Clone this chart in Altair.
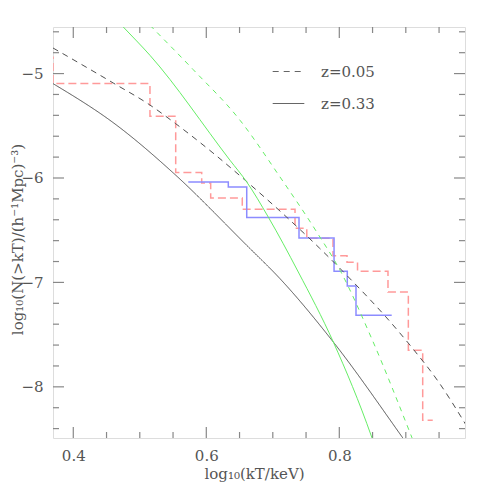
import altair as alt
import pandas as pd

# ---- axis ranges and ticks ----
x_domain = [0.3695, 0.989]
y_domain = [-8.49, -4.554]
x_major = [0.4, 0.6, 0.8]
x_minor = [0.45, 0.5, 0.55, 0.65, 0.7, 0.75, 0.85, 0.9, 0.95]
y_major = [-5, -6, -7, -8]
y_minor = [-4.6, -4.8, -5.2, -5.4, -5.6, -5.8, -6.2, -6.4, -6.6, -6.8,
           -7.2, -7.4, -7.6, -7.8, -8.2, -8.4]

# ---- observed cumulative functions (steps) ----
red_edges = [0.36, 0.3695, 0.5153, 0.554, 0.5931, 0.6066, 0.6541, 0.7334,
             0.7511, 0.7905, 0.8116, 0.8274, 0.8732, 0.9038, 0.9254, 0.9405]
red_levels = [-4.844, -5.096, -5.409, -5.948, -6.048, -6.192, -6.300, -6.482,
              -6.578, -6.745, -6.807, -6.894, -7.092, -7.650, -8.321]

blue_edges = [0.5729, 0.6331, 0.6608, 0.7394, 0.7921, 0.8120, 0.8251, 0.8788]
blue_levels = [-6.038, -6.086, -6.379, -6.575, -6.894, -7.035, -7.315]

# ---- model curves ----
black05_x = [0.3695, 0.46, 0.515, 0.554, 0.61, 0.66, 0.72, 0.77, 0.82, 0.87, 0.91, 0.95, 0.99]
black05_y = [-4.755, -5.09, -5.30, -5.48, -5.76, -6.03, -6.37, -6.67, -6.99, -7.33, -7.63, -7.96, -8.36]
black33_x = [0.3695, 0.4653, 0.5504, 0.6608, 0.7108, 0.791, 0.8962, 0.91]
black33_y = [-5.096, -5.495, -5.952, -6.645, -6.964, -7.571, -8.496, -8.62]
green05_x = [0.505, 0.5179, 0.58, 0.6507, 0.7108, 0.766, 0.8011, 0.8487, 0.9089, 0.92]
green05_y = [-4.47, -4.554, -4.96, -5.447, -5.990, -6.517, -6.884, -7.538, -8.481, -8.66]
green33_x = [0.465, 0.4752, 0.5153, 0.6356, 0.6608, 0.6932, 0.7383, 0.791, 0.8487, 0.86]
green33_y = [-4.485, -4.554, -4.825, -5.830, -6.038, -6.374, -6.900, -7.571, -8.481, -8.69]

z_labels = ["z=0.05", "z=0.33"]

def steps(edges, levels):
    return pd.DataFrame({"x": list(edges), "y": list(levels) + [levels[-1]]})

red_df = steps(red_edges, red_levels)
blue_df = steps(blue_edges, blue_levels)
black_df = pd.concat([
    pd.DataFrame({"x": black05_x, "y": black05_y, "z": z_labels[0]}),
    pd.DataFrame({"x": black33_x, "y": black33_y, "z": z_labels[1]}),
])
green05_df = pd.DataFrame({"x": green05_x, "y": green05_y})
green33_df = pd.DataFrame({"x": green33_x, "y": green33_y})

W, H = 412, 411
FONT = "DejaVu Serif"
TXT = "#555555"
FRAME = "#888888"

X = alt.X("x:Q", scale=alt.Scale(domain=x_domain, nice=False, zero=False),
          axis=alt.Axis(values=x_major, format=".1f", ticks=False, domain=False, grid=False,
                        labelFont=FONT, labelFontSize=15, labelColor=TXT, labelPadding=10,
                        title="log₁₀(kT/keV)", titleFont=FONT, titleFontSize=15,
                        titleFontWeight="normal", titleColor=TXT, titleX=201, titleY=35,
                        titleBaseline="middle"))
Y = alt.Y("y:Q", scale=alt.Scale(domain=y_domain, nice=False, zero=False),
          axis=alt.Axis(values=y_major, format="d", ticks=False, domain=False, grid=False,
                        labelFont=FONT, labelFontSize=15, labelColor=TXT, labelPadding=10,
                        title="log₁₀(N(>kT)/(h⁻¹Mpc)⁻³)", titleFont=FONT, titleFontSize=15,
                        titleFontWeight="normal", titleColor=TXT, titleX=-36, titleY=212,
                        titleAngle=-90, titleBaseline="middle"))

red = alt.Chart(red_df).mark_line(interpolate="step-after", clip=True, color="#ff9a9a",
                                  strokeWidth=1.5, strokeDash=[8, 4]).encode(x=X, y=Y)
blue = alt.Chart(blue_df).mark_line(interpolate="step-after", clip=True, color="#8c8cff",
                                    strokeWidth=1.5).encode(x=X, y=Y)
black = alt.Chart(black_df).mark_line(interpolate="monotone", clip=True, color="#505050",
                                      strokeWidth=1).encode(
    x=X, y=Y, detail="z:N",
    strokeDash=alt.StrokeDash("z:N", scale=alt.Scale(domain=z_labels, range=[[6, 5], [1, 0]]),
                              legend=alt.Legend(title=None, orient="none", legendX=219, legendY=28,
                                                symbolSize=1000, symbolStrokeColor="#666666",
                                                symbolStrokeWidth=1.2, labelFont=FONT,
                                                labelFontSize=15, labelColor=TXT, labelOffset=16,
                                                rowPadding=7, padding=0)))
green05 = alt.Chart(green05_df).mark_line(interpolate="monotone", clip=True, color="#66ee66",
                                          strokeWidth=1, strokeDash=[5, 5]).encode(x=X, y=Y)
green33 = alt.Chart(green33_df).mark_line(interpolate="monotone", clip=True, color="#66ee66",
                                          strokeWidth=1).encode(x=X, y=Y)

# ---- inward ticks on all four sides ----
xmaj = pd.DataFrame({"x": x_major})
xmin = pd.DataFrame({"x": x_minor})
ymaj = pd.DataFrame({"y": y_major})
ymin = pd.DataFrame({"y": y_minor})
tick_layers = []
for df, L in [(xmaj, 11), (xmin, 6)]:
    tick_layers.append(alt.Chart(df).mark_rule(color=FRAME, strokeWidth=1.2).encode(
        x=X, y=alt.value(H), y2=alt.value(H - L)))
    tick_layers.append(alt.Chart(df).mark_rule(color=FRAME, strokeWidth=1.2).encode(
        x=X, y=alt.value(0), y2=alt.value(L)))
for df, L in [(ymaj, 11), (ymin, 6)]:
    tick_layers.append(alt.Chart(df).mark_rule(color=FRAME, strokeWidth=1.2).encode(
        y=Y, x=alt.value(0), x2=alt.value(L)))
    tick_layers.append(alt.Chart(df).mark_rule(color=FRAME, strokeWidth=1.2).encode(
        y=Y, x=alt.value(W), x2=alt.value(W - L)))

chart = alt.layer(*tick_layers, red, blue, black, green05, green33).properties(
    width=W, height=H,
    autosize=alt.AutoSizeParams(type="none"),
    padding={"left": 45, "top": 19, "right": 18, "bottom": 45},
).configure_view(stroke=FRAME, strokeWidth=1.5).configure(background="white")

chart.save("out.html", embed_options={"renderer": "svg", "actions": False})
